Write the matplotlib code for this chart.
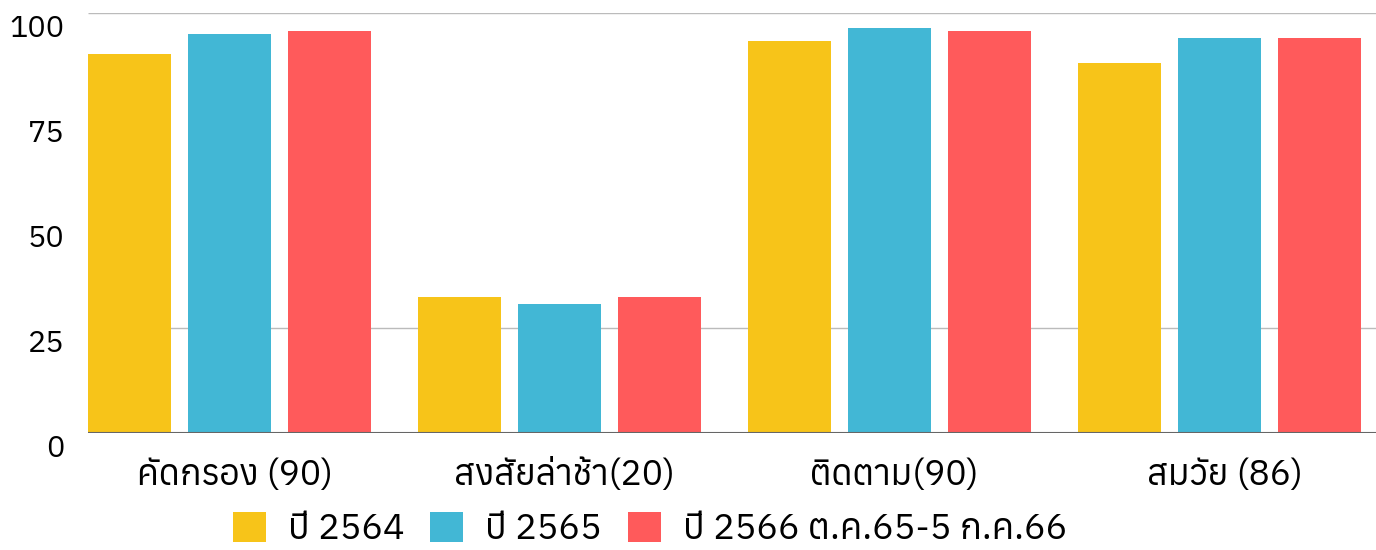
import numpy as np
import matplotlib
matplotlib.use("Agg")
import matplotlib.pyplot as plt
from matplotlib import transforms

categories = ['คัดกรอง (90)', 'สงสัยล่าช้า(20)', 'ติดตาม(90)', 'สมวัย (86)']
series_names = ['ปี 2564', 'ปี 2565', 'ปี 2566 ต.ค.65-5 ก.ค.66']
y2564 = [90.2, 32.4, 93.3, 88.2]
y2565 = [95.0, 30.8, 96.5, 94.0]
y2566 = [95.7, 32.4, 95.6, 94.0]
y_ticks = [0, 25, 50, 75, 100]
grid_at = [25, 100]
colors = ['#f7c419', '#42b7d5', '#ff5a5b']

plt.rcParams['font.family'] = ['Anuphan', 'DejaVu Sans']

fig = plt.figure(figsize=(13.76, 5.5), dpi=100)
ax = fig.add_axes([88 / 1376, 117 / 550, 1 - 88 / 1376, 420 / 550])

series = [y2564, y2565, y2566]
x = np.arange(len(categories)) * 3.3
for i, vals in enumerate(series):
    ax.bar(x + (i - 1), vals, width=0.83, color=colors[i], label=series_names[i], zorder=2)

ax.set_xlim(-1.415, 11.465)
ax.set_ylim(0, 100)
ax.hlines(grid_at, -1.415, 11.465, color='#bbbbbb', lw=1, zorder=1)
ax.axhline(0, color='#666666', lw=1.5, zorder=3)

for s in ax.spines.values():
    s.set_visible(False)

ax.set_yticks(y_ticks)
ax.tick_params(axis='y', length=0, pad=17, labelsize=22)
off = transforms.ScaledTranslation(0, -13 / 100, fig.dpi_scale_trans)
for lab in ax.get_yticklabels():
    lab.set_transform(lab.get_transform() + off)

ax.set_xticks(x)
ax.set_xticklabels(categories)
ax.tick_params(axis='x', length=0, pad=18, labelsize=25.5)
xoff = transforms.ScaledTranslation(5 / 100, 0, fig.dpi_scale_trans)
for lab in ax.get_xticklabels():
    lab.set_transform(lab.get_transform() + xoff)

fig.legend(loc='center', bbox_to_anchor=(650 / 1376, 1 - 529 / 550), ncol=3, frameon=False,
           fontsize=26, handlelength=0.91, handleheight=0.91, handletextpad=0.61, columnspacing=0.72)

fig.savefig('out.png', dpi=100)
